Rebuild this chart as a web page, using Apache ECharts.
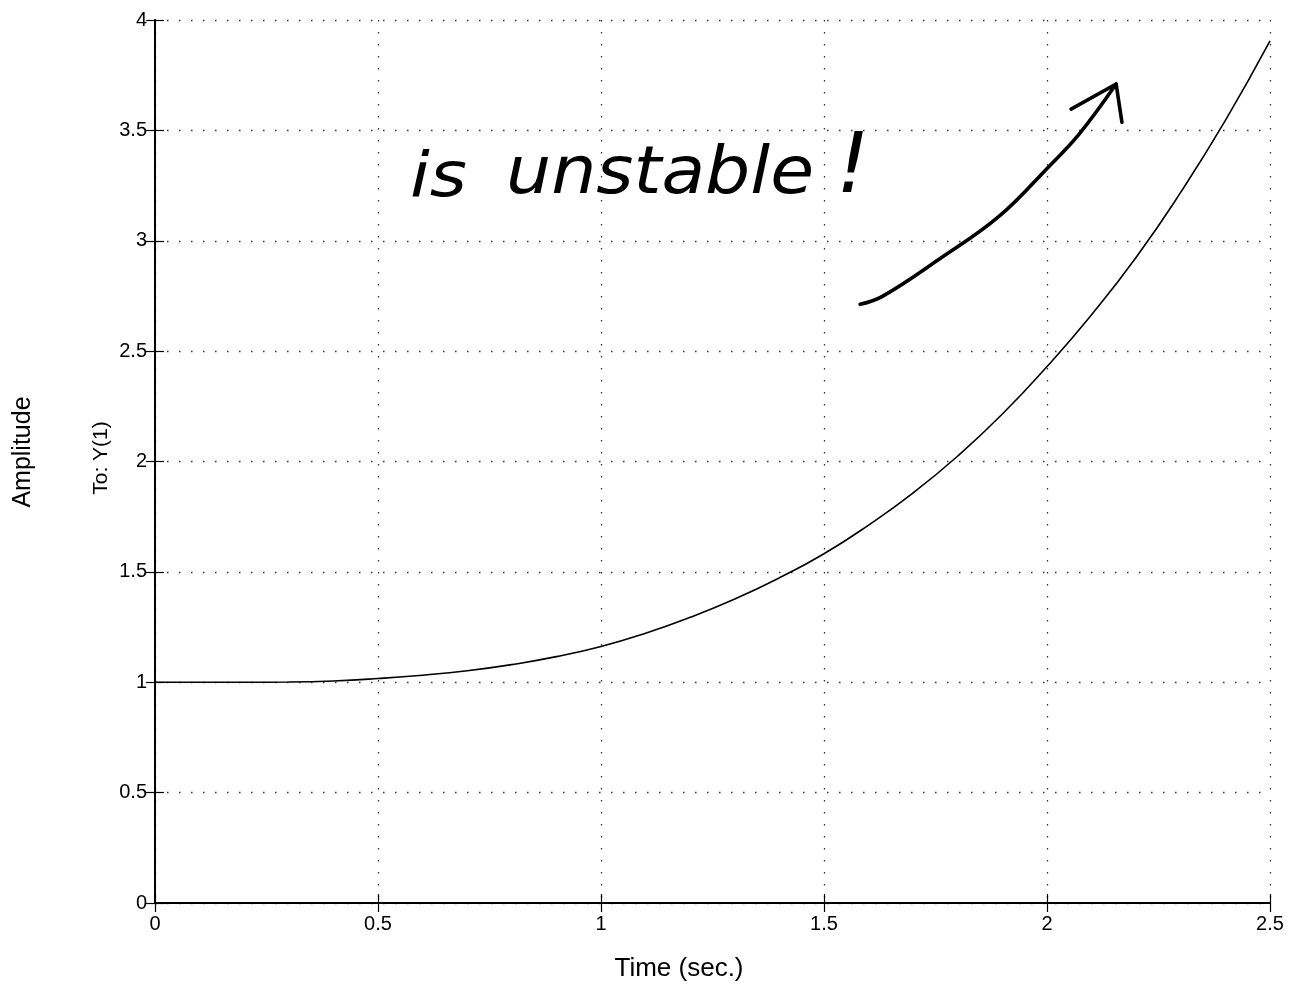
<!DOCTYPE html>
<html>
<head>
<meta charset="utf-8">
<script src="https://cdn.jsdelivr.net/npm/echarts@6/dist/echarts.min.js"></script>
<style>
html,body{margin:0;padding:0;background:#fff;}
#chart{width:1289px;height:984px;}
</style>
</head>
<body>
<div id="chart"></div>
<script>
// Time axis samples (sec.)
const timeValues = [0,0.1,0.2,0.3,0.4,0.5,0.6,0.7,0.8,0.9,1.0,1.1,1.2,1.3,1.4,1.5,1.6,1.7,1.8,1.9,2.0,2.1,2.2,2.3,2.4,2.5];
// Step response amplitude
const amplitudeValues = [1.0,1.0,1.0,1.001,1.006,1.017,1.032,1.052,1.080,1.116,1.162,1.222,1.294,1.377,1.473,1.582,1.712,1.858,2.025,2.215,2.43,2.665,2.925,3.22,3.545,3.905];
// Hand-drawn annotation arrow (data coordinates: time, amplitude)
const arrowShaftT = [1.581,1.631,1.758,1.893,2.005,2.072,2.155];
const arrowShaftY = [2.712,2.748,2.916,3.111,3.338,3.483,3.710];
const arrowHeadT = [2.054,2.155,2.168];
const arrowHeadY = [3.596,3.710,3.537];
// Tick settings
const xTicks = {min:0, max:2.5, interval:0.5};
const yTicks = {min:0, max:4, interval:0.5};

const curve = timeValues.map((t,i)=>[t, amplitudeValues[i]]);
const shaft = arrowShaftT.map((t,i)=>[t, arrowShaftY[i]]);
const head = arrowHeadT.map((t,i)=>[t, arrowHeadY[i]]);

const FONT = '"Liberation Sans", Arial, Helvetica, sans-serif';
const HAND = '"DejaVu Sans", "Liberation Sans", sans-serif';
const dotted = {type:[1.5,10.5], color:'#333', width:1.3};

const chart = echarts.init(document.getElementById('chart'), null, {renderer:'canvas'});
chart.setOption({
  backgroundColor:'#fff',
  animation:false,
  grid:{left:155, right:19, top:20, bottom:81, containLabel:false},
  xAxis:[{
    type:'value', min:xTicks.min, max:xTicks.max, interval:xTicks.interval,
    axisLine:{lineStyle:{color:'#000', width:1.6}},
    axisTick:{inside:true, length:9, lineStyle:{color:'#000', width:1.2}},
    axisLabel:{fontFamily:FONT, fontSize:20, color:'#000', margin:11},
    splitLine:{show:true, lineStyle:dotted}
  },{
    type:'value', position:'top', min:xTicks.min, max:xTicks.max, interval:xTicks.interval,
    axisLine:{show:true, lineStyle:{color:'#000', width:2}},
    axisTick:{inside:true, length:9, lineStyle:{color:'#000', width:1.2}},
    axisLabel:{show:false}, splitLine:{show:false}
  }],
  yAxis:[{
    type:'value', min:yTicks.min, max:yTicks.max, interval:yTicks.interval,
    axisLine:{show:true, lineStyle:{color:'#000', width:1.6}},
    axisTick:{show:true, inside:true, length:9, lineStyle:{color:'#000', width:1.2}},
    axisLabel:{fontFamily:FONT, fontSize:20, color:'#000', margin:8},
    splitLine:{show:true, lineStyle:dotted}
  },{
    type:'value', position:'right', min:yTicks.min, max:yTicks.max, interval:yTicks.interval,
    axisLine:{show:true, lineStyle:{color:'#000', width:2}},
    axisTick:{show:true, inside:true, length:9, lineStyle:{color:'#000', width:1.2}},
    axisLabel:{show:false}, splitLine:{show:false}
  }],
  series:[{
    type:'line', xAxisIndex:0, yAxisIndex:0, data:curve, smooth:true,
    showSymbol:false, symbol:'none', lineStyle:{color:'#000', width:1.6}, z:5
  },{
    type:'line', xAxisIndex:0, yAxisIndex:0, data:shaft, smooth:0.4,
    showSymbol:false, symbol:'none', lineStyle:{color:'#000', width:3.6, cap:'round', join:'round'}, z:6
  },{
    type:'line', xAxisIndex:0, yAxisIndex:0, data:head, smooth:false,
    showSymbol:false, symbol:'none', lineStyle:{color:'#000', width:3.6, cap:'round', join:'round'}, z:6
  }],
  graphic:[
    {type:'text', x:679, y:969,
     style:{text:'Time (sec.)', x:0, y:0, fill:'#000', font:'26px '+FONT, textAlign:'center', textVerticalAlign:'middle'}},
    {type:'text', x:23, y:452, rotation:Math.PI/2,
     style:{text:'Amplitude', x:0, y:0, fill:'#000', font:'25px '+FONT, textAlign:'center', textVerticalAlign:'middle'}},
    {type:'text', x:101, y:458, rotation:Math.PI/2,
     style:{text:'To: Y(1)', x:0, y:0, fill:'#000', font:'21px '+FONT, textAlign:'center', textVerticalAlign:'middle'}},
    {type:'text', x:410, y:180, scaleX:1.15,
     style:{text:'is', x:0, y:0, fill:'#000', font:'italic 200 62px '+HAND, textAlign:'left', textVerticalAlign:'middle'}},
    {type:'text', x:506, y:176, scaleX:1.08,
     style:{text:'unstable', x:0, y:0, fill:'#000', font:'italic 200 66px '+HAND, textAlign:'left', textVerticalAlign:'middle'}},
    {type:'text', x:836, y:170,
     style:{text:'!', x:0, y:0, fill:'#000', font:'italic 200 84px '+HAND, textAlign:'left', textVerticalAlign:'middle'}}
  ]
});
</script>
</body>
</html>
